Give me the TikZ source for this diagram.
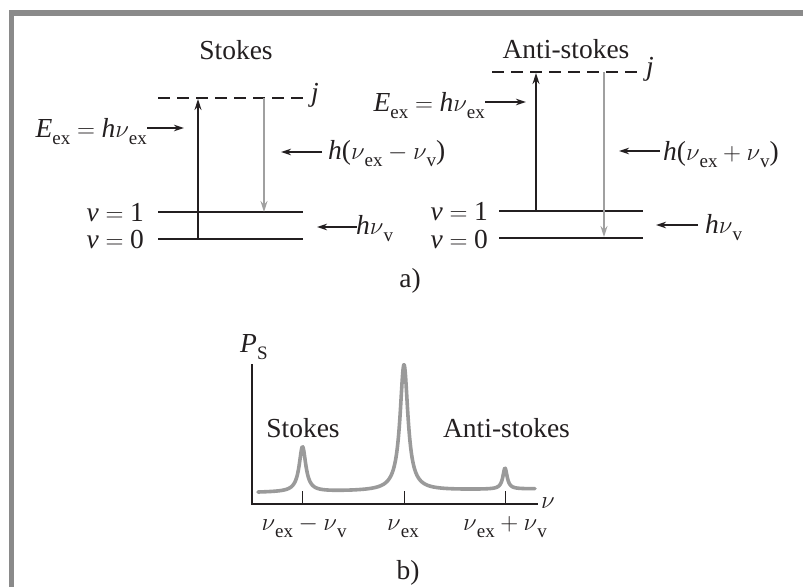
\documentclass[tikz,border=0pt]{standalone}
\usepackage{fontspec}
\setmainfont{Liberation Serif}
\usetikzlibrary{arrows.meta}
\newcommand{\sbs}[1]{\raisebox{-0.28em}{\fontsize{19}{19}\selectfont #1}}
\newcommand{\gnu}{$\nu$}
\newcommand{\opeq}{\hspace{0.24em}$=$\hspace{0.24em}}
\newcommand{\opmi}{\hspace{0.2em}$-$\hspace{0.2em}}
\newcommand{\oppl}{\hspace{0.2em}$+$\hspace{0.2em}}
\definecolor{framegray}{HTML}{8A8A8A}
\definecolor{ink}{HTML}{231F20}
\definecolor{lightray}{HTML}{A0A0A0}
\definecolor{curvegray}{HTML}{9A9A9A}
\begin{document}
\begin{tikzpicture}[x=1pt,y=-1pt,
  every node/.style={font=\fontsize{27.5}{32}\selectfont, inner sep=0pt, text=ink},
  level/.style={draw=ink, line width=2pt},
  virt/.style={draw=ink, line width=1.7pt, dash pattern=on 12pt off 7pt},
  uparr/.style={draw=ink, line width=1.5pt, -{Stealth[length=11pt,width=7pt]}},
  grayarr/.style={draw=lightray, line width=1.5pt, -{Stealth[length=11pt,width=7pt]}},
  lblarr/.style={draw=ink, line width=1.4pt, -{Stealth[length=10pt,width=6.5pt]}},
  axis/.style={draw=ink, line width=1.7pt},
  tick/.style={draw=ink, line width=0.9pt}]
\useasboundingbox (0,0) rectangle (803,587);
% frame
\fill[framegray] (9,10) rectangle (803,16);
\fill[framegray] (9,10) rectangle (14,587);

% ---------- a) Stokes ----------
\node (tS) at (236,50) {Stokes};
\coordinate (sJl) at (158,98); \coordinate (sJr) at (303,98);
\coordinate (s1l) at (158,212); \coordinate (s1r) at (303,212);
\coordinate (s0l) at (158,239); \coordinate (s0r) at (303,239);
\draw[virt] (sJl) -- (sJr);
\draw[level] (s1l) -- (s1r);
\draw[level] (s0l) -- (s0r);
\node[anchor=base west] (sj) at (311,101) {\textit{j}};
\node[anchor=east] (sv1) at (144,212.5) {\textit{v}\opeq 1};
\node[anchor=east] (sv0) at (144,239.5) {\textit{v}\opeq 0};
\coordinate (sUa) at (198,239); \coordinate (sUb) at (198,99);
\draw[uparr] (sUa) -- (sUb);
\coordinate (sDa) at (264,98); \coordinate (sDb) at (264,212);
\draw[grayarr] (sDa) -- (sDb);
\node[anchor=base east] (sE) at (147,137) {\textit{E}\sbs{ex}\opeq\textit{h}\gnu\sbs{ex}};
\coordinate (sEa) at (147,128); \coordinate (sEb) at (184,128);
\draw[lblarr] (sEa) -- (sEb);
\node[anchor=base west] (sH) at (328,159) {\textit{h}(\gnu\sbs{ex}\opmi\gnu\sbs{v})};
\coordinate (sHa) at (322,152); \coordinate (sHb) at (281,152);
\draw[lblarr] (sHa) -- (sHb);
\node[anchor=base west] (sV) at (356,234) {\textit{h}\gnu\sbs{v}};
\coordinate (sVa) at (357,227); \coordinate (sVb) at (317,227);
\draw[lblarr] (sVa) -- (sVb);

% ---------- a) Anti-stokes ----------
\node (tA) at (566,49) {Anti-stokes};
\coordinate (aJl) at (492,72); \coordinate (aJr) at (637,72);
\coordinate (a1l) at (499,211); \coordinate (a1r) at (643,211);
\coordinate (a0l) at (499,238); \coordinate (a0r) at (643,238);
\draw[virt] (aJl) -- (aJr);
\draw[level] (a1l) -- (a1r);
\draw[level] (a0l) -- (a0r);
\node[anchor=base west] (aj) at (646,75) {\textit{j}};
\node[anchor=east] (av1) at (488,211.5) {\textit{v}\opeq 1};
\node[anchor=east] (av0) at (488,239) {\textit{v}\opeq 0};
\coordinate (aUa) at (536,211); \coordinate (aUb) at (536,73);
\draw[uparr] (aUa) -- (aUb);
\coordinate (aDa) at (604,72); \coordinate (aDb) at (604,237);
\draw[grayarr] (aDa) -- (aDb);
\node[anchor=base east] (aE) at (485,111) {\textit{E}\sbs{ex}\opeq\textit{h}\gnu\sbs{ex}};
\coordinate (aEa) at (485,102); \coordinate (aEb) at (526,102);
\draw[lblarr] (aEa) -- (aEb);
\node[anchor=base west] (aH) at (663,160) {\textit{h}(\gnu\sbs{ex}\oppl\gnu\sbs{v})};
\coordinate (aHa) at (660,151); \coordinate (aHb) at (619,151);
\draw[lblarr] (aHa) -- (aHb);
\node[anchor=base west] (aV) at (705,233) {\textit{h}\gnu\sbs{v}};
\coordinate (aVa) at (698,225); \coordinate (aVb) at (656,225);
\draw[lblarr] (aVa) -- (aVb);

\node (capA) at (410,281) {a)};

% ---------- b) spectrum ----------
\coordinate (org) at (252,504);
\coordinate (ytop) at (252,364);
\coordinate (xend) at (538,504);
\draw[axis] (ytop) -- (org) -- (xend);
\node[anchor=base west] (PS) at (240,352) {\textit{P}\sbs{S}};
\node[anchor=base west] (nuax) at (541,508) {\gnu};
\foreach \t/\nm in {302.5/t1,404/t2,505/t3}{
  \coordinate (\nm a) at (\t,491); \coordinate (\nm b) at (\t,504);
  \draw[tick] (\nm a) -- (\nm b);
}
\draw[curvegray, line width=3.6pt, line join=round, line cap=round]
  plot[domain=258:535, samples=700, smooth]
  (\x, {492.5 - 3.5*(\x-258)/277
        - 126/(1+((\x-404)/4.8)^2)
        - 45/(1+((\x-302.5)/4)^2)
        - 21/(1+((\x-505)/2.6)^2)});
\node[anchor=base] (lS) at (303,437) {Stokes};
\node[anchor=base] (lA) at (506.5,437) {Anti-stokes};
\node[anchor=base] (x1) at (304,530) {\gnu\sbs{ex}\opmi\gnu\sbs{v}};
\node[anchor=base] (x2) at (403,530) {\gnu\sbs{ex}};
\node[anchor=base] (x3) at (505,530) {\gnu\sbs{ex}\oppl\gnu\sbs{v}};
\node (capB) at (408,573) {b)};
\end{tikzpicture}
\end{document}
